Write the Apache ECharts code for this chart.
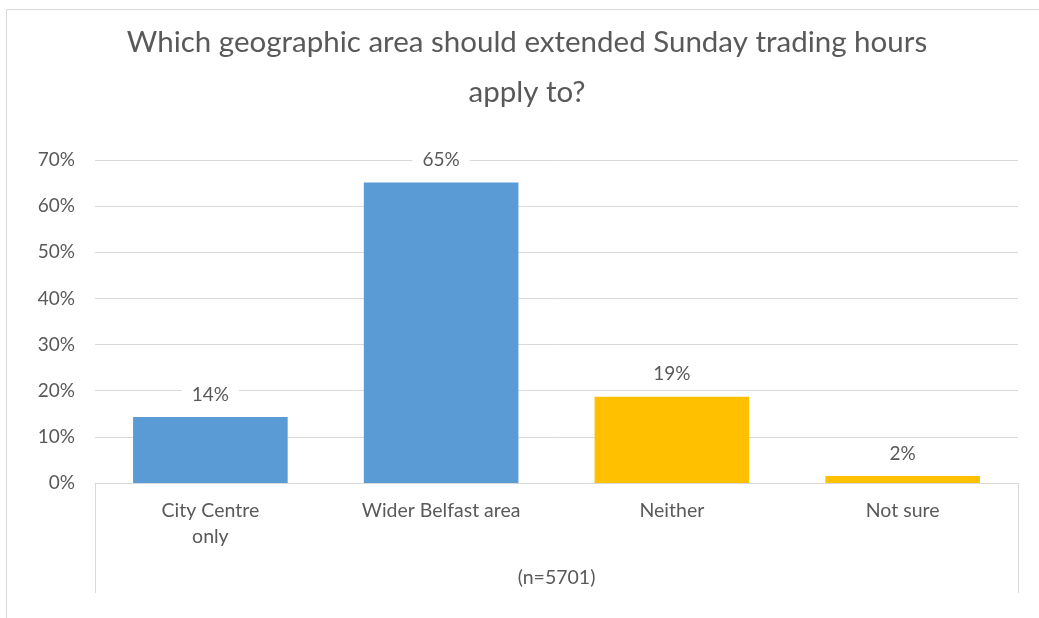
<!DOCTYPE html>
<html>
<head>
<meta charset="utf-8">
<script src="https://cdn.jsdelivr.net/npm/echarts@6/dist/echarts.min.js"></script>
<style>
html,body{margin:0;padding:0;background:#fff;}
#chart{width:1039px;height:618px;}
</style>
</head>
<body>
<div id="chart"></div>
<script>
const titleText = 'Which geographic area should extended Sunday trading hours\napply to?';
const categories = ['City Centre\nonly', 'Wider Belfast area', 'Neither', 'Not sure'];
const values = [14.3, 65.1, 18.7, 1.5];
const barColors = ['#5B9BD5', '#5B9BD5', '#FFC000', '#FFC000'];
const outerCategory = ['(n=5701)'];
const yTicks = { min: 0, max: 70, interval: 10 };

const FONT = 'Lato';
const TXT = '#595959';
const GRID = '#D9D9D9';

const chart = echarts.init(document.getElementById('chart'));
chart.setOption({
  backgroundColor: '#fff',
  animation: false,
  textStyle: { fontFamily: FONT },
  graphic: [{
    type: 'rect',
    shape: { x: 6.5, y: 9.5, width: 1060, height: 640 },
    style: { fill: 'none', stroke: GRID, lineWidth: 1 },
    silent: true, z: -10
  }],
  title: {
    text: titleText,
    left: 522,
    textAlign: 'center',
    top: 12,
    textStyle: { fontFamily: FONT, fontSize: 29.5, fontWeight: 'normal', color: TXT, lineHeight: 50 }
  },
  grid: { left: 95, right: 21, top: 160, bottom: 135, containLabel: false },
  xAxis: [{
    type: 'category',
    data: categories,
    position: 'bottom',
    axisLine: { show: true, lineStyle: { color: GRID, width: 1 } },
    axisTick: { show: false },
    axisLabel: { color: TXT, fontFamily: FONT, fontSize: 19.5, lineHeight: 26, margin: 15, interval: 0 }
  }, {
    type: 'category',
    data: outerCategory,
    position: 'bottom',
    axisLine: { show: false },
    axisTick: { show: true, length: 110, lineStyle: { color: GRID, width: 1 } },
    axisLabel: { color: TXT, fontFamily: FONT, fontSize: 19.5, margin: 85 }
  }],
  yAxis: {
    type: 'value',
    min: yTicks.min, max: yTicks.max, interval: yTicks.interval,
    axisLine: { show: false },
    axisTick: { show: false },
    splitLine: { lineStyle: { color: GRID, width: 1 } },
    axisLabel: { color: TXT, fontFamily: FONT, fontSize: 19, margin: 20, formatter: '{value}%' }
  },
  series: [{
    type: 'bar',
    xAxisIndex: 0,
    data: values.map((v, i) => ({ value: v, itemStyle: { color: barColors[i] } })),
    barCategoryGap: '33%',
    label: {
      show: true,
      position: 'top',
      distance: 11,
      color: TXT,
      fontFamily: FONT,
      fontSize: 19,
      backgroundColor: '#fff',
      padding: [2, 10],
      formatter: p => Math.round(p.value) + '%'
    }
  }]
});
</script>
</body>
</html>
